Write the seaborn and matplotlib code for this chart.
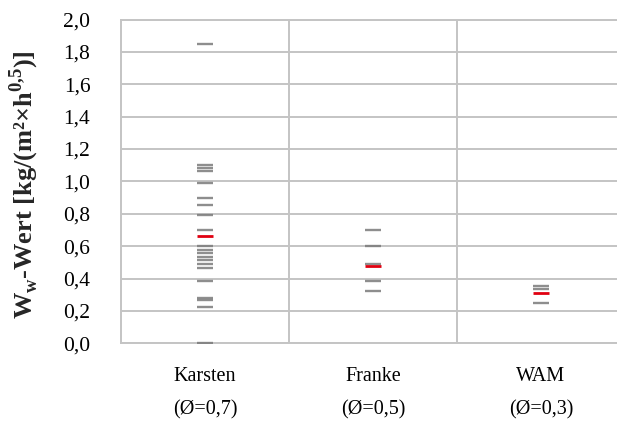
import pandas as pd
import seaborn as sns
import matplotlib.pyplot as plt
from matplotlib.ticker import FuncFormatter

# values
karsten = [1.85, 1.10, 1.08, 1.065, 0.99, 0.90, 0.855, 0.79, 0.70, 0.60,
           0.575, 0.555, 0.53, 0.515, 0.49, 0.465, 0.385, 0.28, 0.265,
           0.225, 0.0]
franke = [0.70, 0.60, 0.49, 0.385, 0.325]
wam = [0.355, 0.335, 0.25]
categories = ['Karsten', 'Franke', 'WAM']
means = [0.66, 0.48, 0.31]
mean_labels = ['(Ø=0,7)', '(Ø=0,5)', '(Ø=0,3)']

df = pd.DataFrame({
    'Gruppe': ['Karsten'] * len(karsten) + ['Franke'] * len(franke) + ['WAM'] * len(wam),
    'Wert': karsten + franke + wam,
})
df_mean = pd.DataFrame({'Gruppe': categories, 'Wert': means})

sns.set_theme(style='white')
plt.rcParams['font.family'] = ['Liberation Serif', 'DejaVu Serif']
plt.rcParams['mathtext.fontset'] = 'custom'
plt.rcParams['mathtext.rm'] = 'Liberation Serif'
plt.rcParams['mathtext.bf'] = 'Liberation Serif:bold'

grid_col = '#c4c4c4'

fig = plt.figure(figsize=(6.17, 4.21), dpi=100)
ax = fig.add_axes([0.196, 0.1846, 0.804, 0.769])

sns.stripplot(data=df, x='Gruppe', y='Wert', order=categories, jitter=False,
              marker='_', s=11, linewidth=1.7, color='#7a7a7a', alpha=0.85,
              ax=ax, zorder=3)
sns.stripplot(data=df_mean, x='Gruppe', y='Wert', order=categories, jitter=False,
              marker='_', s=11, linewidth=2.0, color='#e00010',
              ax=ax, zorder=4)

ax.set_ylim(0, 2.0)
ax.set_xlim(-0.5, 2.5 - 8 / 168)
ax.set_yticks([i / 10 for i in range(0, 21, 2)])
ax.yaxis.set_major_formatter(FuncFormatter(lambda v, p: f'{v:.1f}'.replace('.', ',')))
ax.grid(axis='y', color=grid_col, linewidth=1.4)
ax.set_axisbelow(True)
for xv in [0.5, 1.5]:
    ax.axvline(xv, color=grid_col, linewidth=1.4, zorder=1)

for side in ['left', 'bottom', 'top']:
    ax.spines[side].set_color(grid_col)
    ax.spines[side].set_linewidth(1.4)
ax.spines['right'].set_visible(False)

ax.set_xticks(range(3))
ax.set_xticklabels([f'{c}\n{m}' for c, m in zip(categories, mean_labels)],
                   fontsize=14.5, linespacing=2.0)
ax.tick_params(axis='x', length=0, pad=17, colors='black')
ax.tick_params(axis='y', length=0, pad=22, labelsize=15.5, colors='black')
ax.set_xlabel('')
ax.set_ylabel(r'W$_\mathbf{w}$-Wert [kg/(m²×h$^{\mathbf{0{,}5}}$)]',
              fontsize=19, fontweight='bold')
ax.yaxis.set_label_coords(-0.162, 0.49)

fig.savefig('out.png', dpi=100, facecolor='white')
